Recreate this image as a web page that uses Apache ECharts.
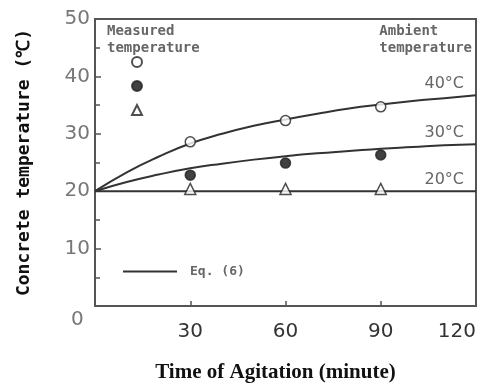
<!DOCTYPE html>
<html>
<head>
<meta charset="utf-8">
<script src="https://cdn.jsdelivr.net/npm/echarts@6/dist/echarts.min.js"></script>
<style>
  html, body { margin: 0; padding: 0; background: #fff; }
  #chart { width: 488px; height: 389px; }
</style>
</head>
<body>
<div id="chart"></div>
<script>
// curve values (Eq. 6)
const times = [0, 10, 20, 30, 40, 50, 60, 70, 80, 90, 100, 110, 120];
const eq40 = [20, 23.3, 26.0, 28.3, 30.0, 31.4, 32.5, 33.5, 34.4, 35.1, 35.7, 36.2, 36.7];
const eq30 = [20, 21.6, 22.9, 24.0, 24.8, 25.5, 26.1, 26.6, 27.0, 27.4, 27.7, 28.0, 28.2];
const eq20 = [20, 20, 20, 20, 20, 20, 20, 20, 20, 20, 20, 20, 20];

// measured points
const measTimes = [30, 60, 90];
const meas40 = [28.6, 32.3, 34.7];
const meas30 = [22.8, 24.9, 26.3];
const meas20 = [20.4, 20.4, 20.4];

const ambientLabels = ["40°C", "30°C", "20°C"];
const xTicks = [0, 30, 60, 90, 120];

function pairs(xs, ys) {
  return xs.map((x, i) => [x, ys[i]]);
}

document.addEventListener("DOMContentLoaded", function () {
  const chart = echarts.init(document.getElementById("chart"));
  const mono = "DejaVu Sans Mono";
  const grey = "#666";

  function curve(values, label) {
    return {
      name: "Eq. (6)",
      type: "line",
      data: pairs(times, values),
      smooth: true,
      symbol: "none",
      itemStyle: { color: "#333" },
      lineStyle: { color: "#333", width: 2 },
      z: 2,
      endLabel: {
        show: true,
        formatter: label,
        align: "right",
        offset: [-20, -11],
        fontFamily: "DejaVu Sans",
        fontSize: 16,
        color: grey
      }
    };
  }

  function points(name, values, symbol, size, fill) {
    return {
      name: name,
      type: "scatter",
      data: pairs(measTimes, values),
      symbol: symbol,
      symbolSize: size,
      itemStyle: { color: fill, borderColor: "#222", borderWidth: 1.5 },
      z: 3
    };
  }

  const option = {
    animation: false,
    grid: {
      left: 95, top: 19, right: 12, bottom: 83,
      show: true, borderColor: "#555", borderWidth: 2, backgroundColor: "transparent"
    },
    legend: [
      {
        data: ["open", "filled", "tri"],
        orient: "vertical",
        left: 126, top: 51,
        itemWidth: 10, itemHeight: 10, itemGap: 12,
        formatter: function () { return ""; },
        textStyle: { fontSize: 10, lineHeight: 10 },
        selectedMode: false
      },
      {
        data: [{ name: "Eq. (6)", icon: "rect" }],
        left: 118, top: 260,
        itemWidth: 54, itemHeight: 2,
        selectedMode: false,
        itemStyle: { color: "#333" },
        textStyle: { fontFamily: mono, fontWeight: "bold", fontSize: 13, color: grey, padding: [0, 0, 0, 8] }
      }
    ],
    xAxis: {
      type: "value",
      min: 0, max: 120, interval: 30,
      name: "Time of Agitation (minute)",
      nameLocation: "middle",
      nameGap: 56,
      nameTextStyle: {
        fontFamily: "Liberation Serif", fontSize: 21, fontWeight: "bold", color: "#111",
        padding: [0, 20, 0, 0]
      },
      axisLine: { lineStyle: { color: "#555", width: 2 } },
      axisTick: { inside: true, length: 5, lineStyle: { color: "#555", width: 1.5 } },
      axisLabel: {
        showMinLabel: false,
        alignMaxLabel: "right",
        margin: 16,
        fontFamily: "DejaVu Sans", fontSize: 20, color: "#333",
        formatter: function (v) { return xTicks.indexOf(v) >= 0 ? String(v) : ""; }
      },
      splitLine: { show: false }
    },
    yAxis: {
      type: "value",
      min: 0, max: 50, interval: 10,
      name: "Concrete temperature (℃)",
      nameLocation: "middle",
      nameGap: 62,
      nameTextStyle: { fontFamily: mono, fontWeight: "bold", fontSize: 18, color: "#111" },
      axisLine: { lineStyle: { color: "#555", width: 2 } },
      axisTick: { inside: true, length: 6, lineStyle: { color: "#555", width: 1.5 } },
      minorTick: { show: true, splitNumber: 2, length: 5, lineStyle: { color: "#555", width: 1.5 } },
      axisLabel: {
        showMinLabel: false,
        margin: 5,
        fontFamily: "DejaVu Sans", fontSize: 20, color: "#777"
      },
      splitLine: { show: false }
    },
    graphic: [
      {
        type: "text", left: 107, top: 23,
        style: { text: "Measured\ntemperature", font: "bold 14px " + mono, fill: grey, lineHeight: 17 }
      },
      {
        type: "text", right: 16, top: 23,
        style: { text: "Ambient\ntemperature", font: "bold 14px " + mono, fill: grey, lineHeight: 17, align: "right" }
      },
      {
        type: "text", left: 71, top: 310,
        style: { text: "0", font: "20px DejaVu Sans", fill: "#777" }
      }
    ],
    series: [
      curve(eq40, ambientLabels[0]),
      curve(eq30, ambientLabels[1]),
      curve(eq20, ambientLabels[2]),
      points("open", meas40, "circle", 10, "#fff"),
      points("filled", meas30, "circle", 10, "#111"),
      points("tri", meas20, "triangle", 11, "#fff")
    ]
  };
  chart.setOption(option);
});
</script>
</body>
</html>
